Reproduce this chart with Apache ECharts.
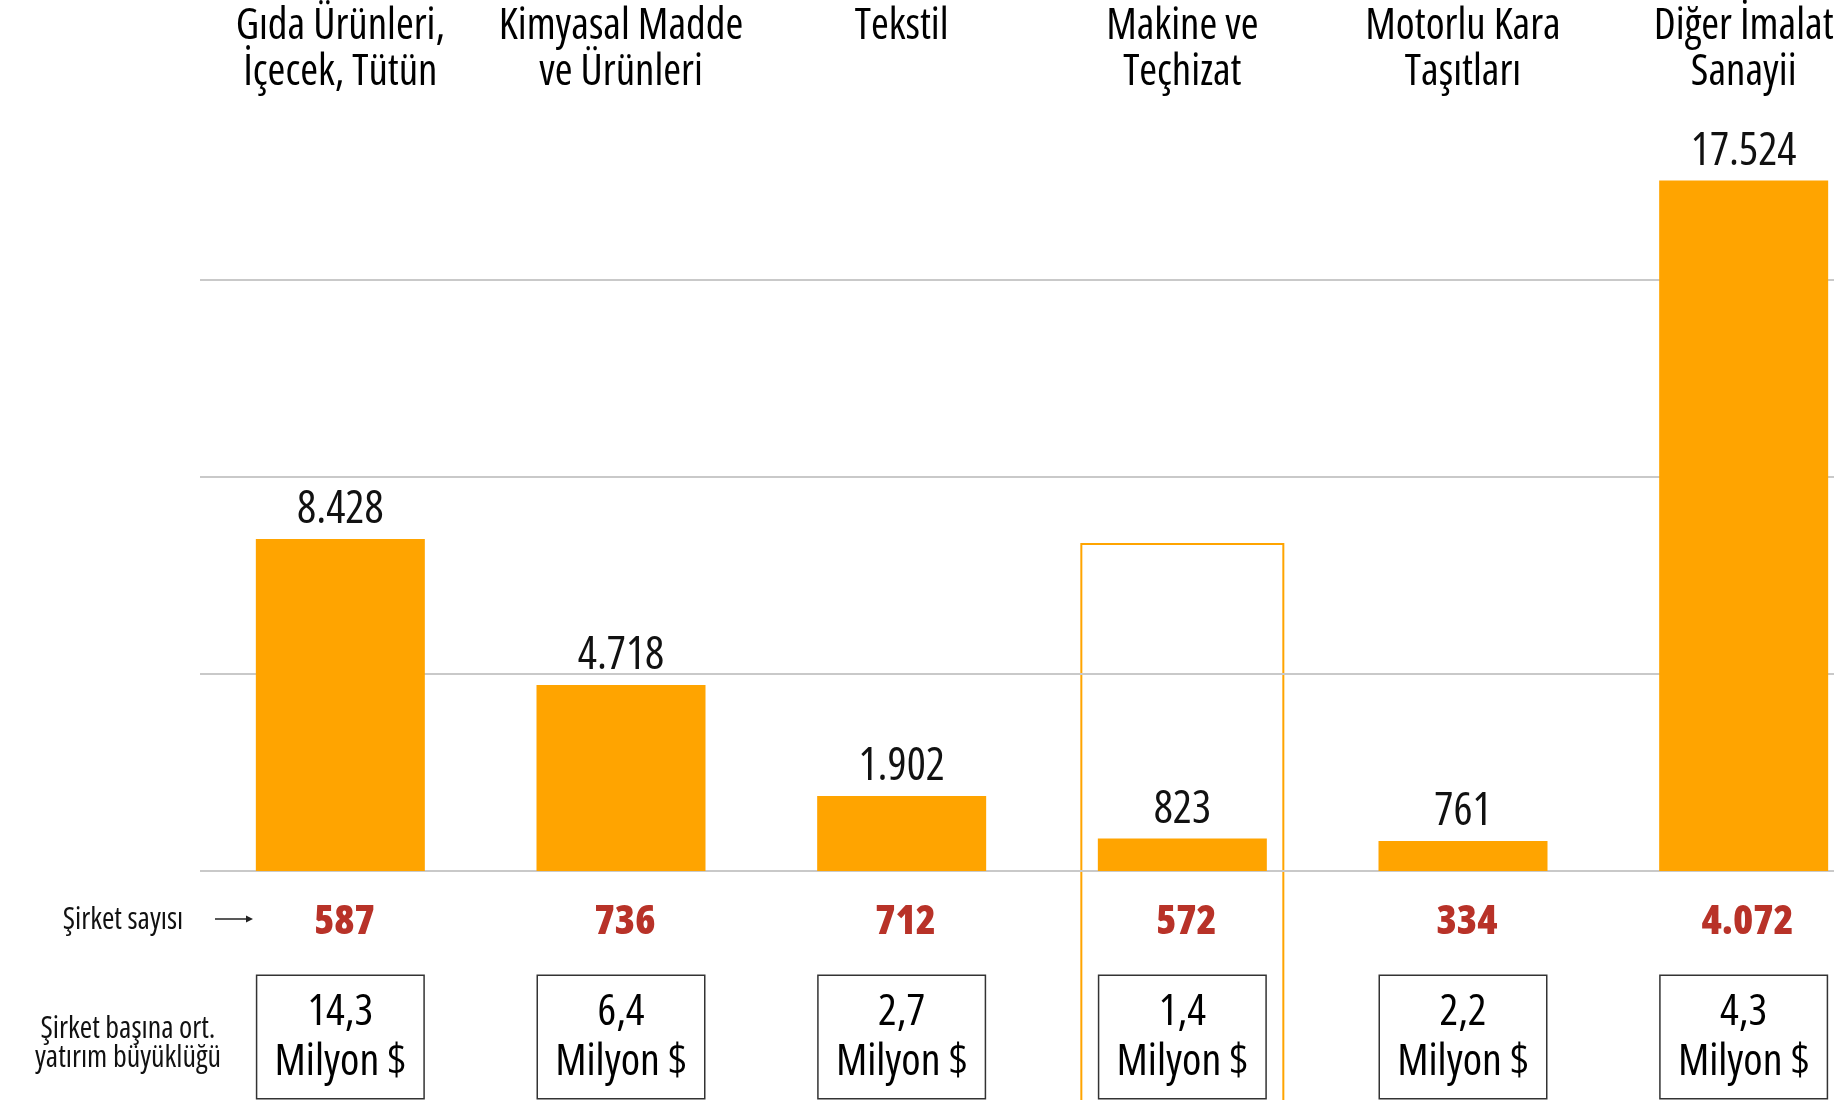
<!DOCTYPE html>
<html>
<head>
<meta charset="utf-8">
<script src="https://cdn.jsdelivr.net/npm/echarts@6/dist/echarts.min.js"></script>
<style>
  html, body { margin: 0; padding: 0; background: #ffffff; }
  #chart { width: 1834px; height: 1100px; }
</style>
</head>
<body>
<div id="chart"></div>
<script>
// ---- data ----
const categories = [
  'Gıda Ürünleri,\nİçecek, Tütün',
  'Kimyasal Madde\nve Ürünleri',
  'Tekstil\n ',
  'Makine ve\nTeçhizat',
  'Motorlu Kara\nTaşıtları',
  'Diğer İmalat\nSanayii'
];
const investment = [8428, 4718, 1902, 823, 761, 17524];
const companyCounts = [587, 736, 712, 572, 334, 4072];
const avgInvestment = [14.3, 6.4, 2.7, 1.4, 2.2, 4.3];
const gridValues = [0, 5000, 10000, 15000];
const rowLabelCount = 'Şirket sayısı';
const rowLabelAvg = 'Şirket başına ort.\nyatırım büyüklüğü';
const unitText = 'Milyon $';
const highlightIndex = 3;
const highlightTop = 8300;

// ---- helpers ----
const FONT = '"Open Sans", "Roboto Condensed", sans-serif';
const STRETCH = 'condensed';
const fmtThousands = n => String(n).replace(/\B(?=(\d{3})+(?!\d))/g, '.');
const fmtDecimal = n => n.toFixed(1).replace('.', ',');

const chart = echarts.init(document.getElementById('chart'), null, { renderer: 'canvas' });

chart.setOption({
  animation: false,
  backgroundColor: '#ffffff',
  grid: { left: 200, top: 83, width: 1684, height: 788, outerBoundsMode: 'none', containLabel: false },
  xAxis: [
    {
      type: 'category', data: categories, position: 'top',
      axisLine: { show: false }, axisTick: { show: false }, splitLine: { show: false },
      axisLabel: {
        interval: 0, hideOverlap: false, margin: -13,
        fontFamily: FONT, fontStyle: STRETCH, fontWeight: 500, fontSize: 43, lineHeight: 46, color: '#000000'
      }
    },
    {
      type: 'category', data: categories, position: 'bottom', offset: 0,
      axisLine: { show: false }, axisTick: { show: false }, splitLine: { show: false },
      axisLabel: {
        interval: 0, hideOverlap: false, margin: 31,
        fontFamily: FONT, fontStyle: STRETCH, fontSize: 41, lineHeight: 41, fontWeight: 800, color: '#B83228',
        padding: [0, 0, 0, 8],
        formatter: (v, i) => fmtThousands(companyCounts[i])
      }
    },
    {
      type: 'category', data: categories, position: 'bottom', offset: 0,
      axisLine: { show: false }, axisTick: { show: false }, splitLine: { show: false },
      axisLabel: {
        interval: 0, hideOverlap: false, margin: 105,
        fontFamily: FONT, fontStyle: STRETCH, fontSize: 44, lineHeight: 50, color: '#000000',
        width: 166, align: 'center',
        padding: [11, 0, 11, 0],
        borderColor: '#333333', borderWidth: 1.5, backgroundColor: '#ffffff',
        formatter: (v, i) => fmtDecimal(avgInvestment[i]) + '\n' + unitText
      }
    }
  ],
  yAxis: {
    type: 'value', min: 0, max: 20000, show: false,
    splitLine: { show: false }
  },
  series: [
    {
      type: 'line', data: [], silent: true, z: 1,
      markLine: {
        z: 1, silent: true, symbol: 'none', animation: false,
        label: { show: false },
        lineStyle: { color: '#c9c9c9', width: 2, type: 'solid' },
        emphasis: { disabled: true },
        data: gridValues.map(v => ({ yAxis: v }))
      }
    },
    {
      type: 'bar', data: investment, xAxisIndex: 0, yAxisIndex: 0, z: 3,
      barWidth: 169,
      itemStyle: { color: '#FFA400' },
      label: {
        show: true, position: 'top', distance: 6,
        fontFamily: FONT, fontStyle: STRETCH, fontSize: 45, color: '#111111',
        formatter: p => fmtThousands(p.value)
      }
    }
  ]
});

// highlight outline + left-side row labels
const cx = chart.convertToPixel({ xAxisIndex: 0 }, categories[highlightIndex]);
const topY = chart.convertToPixel({ yAxisIndex: 0 }, highlightTop);
const halfW = 101;

chart.setOption({
  graphic: [
    {
      type: 'rect', z: 0, silent: true,
      shape: { x: cx - halfW, y: topY, width: halfW * 2, height: 1200 - topY },
      style: { fill: 'none', stroke: '#FFA400', lineWidth: 2 }
    },
    {
      type: 'text', x: 123, y: 920, silent: true,
      style: { text: rowLabelCount, fontFamily: FONT, fontStyle: STRETCH, fontSize: 30, fill: '#111111', align: 'center', verticalAlign: 'middle' }
    },
    {
      type: 'line', silent: true,
      shape: { x1: 215, y1: 919, x2: 248, y2: 919 },
      style: { stroke: '#222222', lineWidth: 1.5 }
    },
    {
      type: 'polygon', silent: true,
      shape: { points: [[246, 915.5], [253, 919], [246, 922.5]] },
      style: { fill: '#222222' }
    },
    {
      type: 'text', x: 128, y: 1044, silent: true,
      style: { text: rowLabelAvg, fontFamily: FONT, fontStyle: STRETCH, fontSize: 30, lineHeight: 29, fill: '#111111', align: 'center', verticalAlign: 'middle' }
    }
  ]
});
</script>
</body>
</html>
